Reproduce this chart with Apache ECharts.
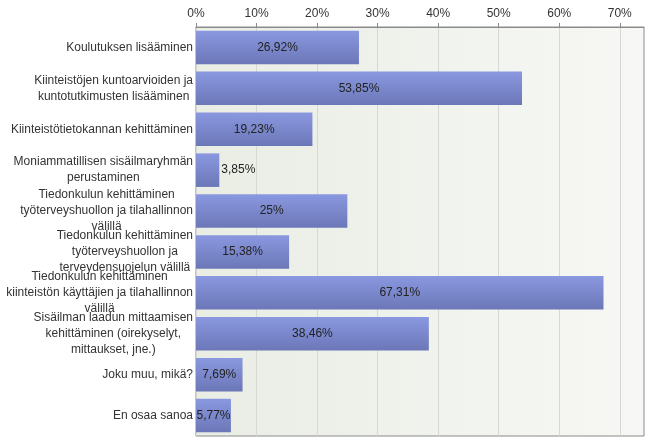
<!DOCTYPE html>
<html>
<head>
<meta charset="utf-8">
<script src="https://cdn.jsdelivr.net/npm/echarts@6/dist/echarts.min.js"></script>
<style>html,body{margin:0;padding:0;background:#fff}#c{width:648px;height:441px}</style>
</head>
<body>
<div id="c"></div>
<script>
const categories = [
  "Koulutuksen lisääminen",
  "Kiinteistöjen kuntoarvioiden ja\nkuntotutkimusten lisääminen",
  "Kiinteistötietokannan kehittäminen",
  "Moniammatillisen sisäilmaryhmän\nperustaminen",
  "Tiedonkulun kehittäminen\ntyöterveyshuollon ja tilahallinnon\nvälillä",
  "Tiedonkulun kehittäminen\ntyöterveyshuollon ja\nterveydensuojelun välillä",
  "Tiedonkulun kehittäminen\nkiinteistön käyttäjien ja tilahallinnon\nvälillä",
  "Sisäilman laadun mittaamisen\nkehittäminen (oirekyselyt,\nmittaukset, jne.)",
  "Joku muu, mikä?",
  "En osaa sanoa"
];
const values = [26.92, 53.85, 19.23, 3.85, 25, 15.38, 67.31, 38.46, 7.69, 5.77];
const tickValues = [0, 10, 20, 30, 40, 50, 60, 70];
const axisMax = 74;

const font = '"Liberation Sans", Arial, sans-serif';
const fmt = v => String(v).replace('.', ',') + '%';

const chart = echarts.init(document.getElementById('c'), null, {renderer: 'canvas'});
chart.setOption({
  animation: false,
  grid: {
    left: 196, right: 4, top: 27, bottom: 5,
    show: true,
    borderColor: '#8a8a8a',
    borderWidth: 1,
    backgroundColor: new echarts.graphic.LinearGradient(0, 0, 1, 0, [
      {offset: 0, color: '#e9ede4'},
      {offset: 1, color: '#f7f8f5'}
    ])
  },
  xAxis: {
    type: 'value',
    position: 'top',
    min: 0, max: axisMax, interval: 10,
    axisLine: {show: true, lineStyle: {color: '#8a8a8a'}},
    axisTick: {show: true, length: 4, customValues: tickValues, lineStyle: {color: '#8a8a8a'}},
    axisLabel: {
      customValues: tickValues,
      formatter: v => v + '%',
      color: '#333', fontSize: 12, fontFamily: font, margin: 7
    },
    splitLine: {show: true, lineStyle: {color: '#d6d8d4'}}
  },
  yAxis: {
    type: 'category',
    inverse: true,
    data: categories,
    axisLine: {show: false},
    axisTick: {show: false},
    axisLabel: {
      margin: 3,
      align: 'right',
      color: '#333',
      fontSize: 12,
      fontFamily: font,
      lineHeight: 16,
      formatter: v => v.split('\n').map(s => '{c|' + s + '}').join('\n'),
      rich: {c: {align: 'center', fontSize: 12, fontFamily: font, color: '#333', lineHeight: 16}}
    }
  },
  series: [{
    type: 'bar',
    data: values.map(v => ({
      value: v,
      label: {position: v < 5 ? 'right' : 'inside', distance: 2}
    })),
    barCategoryGap: '18%',
    itemStyle: {
      color: new echarts.graphic.LinearGradient(0, 0, 0, 1, [
        {offset: 0, color: '#8a98e0'},
        {offset: 1, color: '#6b77b7'}
      ])
    },
    label: {
      show: true,
      formatter: p => fmt(p.value),
      color: '#222',
      fontSize: 12,
      fontFamily: font
    }
  }]
});
</script>
</body>
</html>
